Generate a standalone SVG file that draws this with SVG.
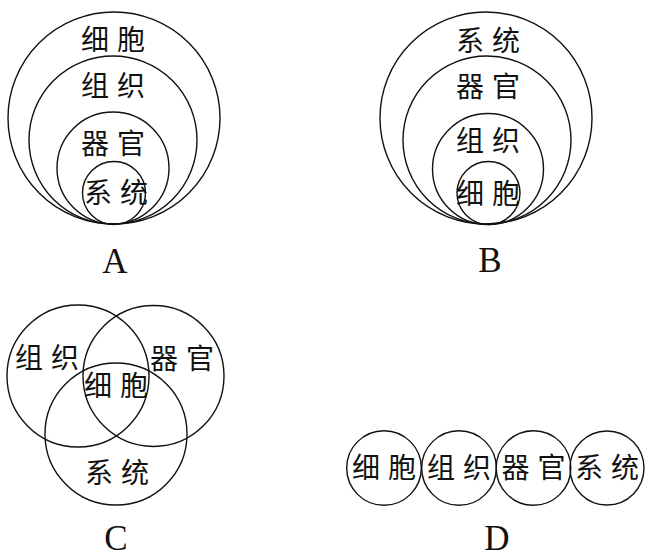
<svg xmlns="http://www.w3.org/2000/svg" width="648" height="558" viewBox="0 0 648 558">
<style>
circle{fill:none;stroke:#111;stroke-width:1.4}
.t{font-family:"Noto Sans CJK SC","Noto Sans",sans-serif;font-size:28px;fill:#111;text-anchor:middle}
.l{font-family:"Liberation Serif","Times New Roman",serif;font-size:35px;fill:#111;text-anchor:middle}
</style>
<rect width="648" height="558" fill="#fff"/>
<g id="diagram-A">
<circle cx="114" cy="118" r="106"/>
<circle cx="113" cy="140" r="84"/>
<circle cx="113" cy="168" r="56"/>
<circle cx="114" cy="193" r="31.5"/>
<text class="t" x="95 131" y="50">细胞</text>
<text class="t" x="95 131" y="96">组织</text>
<text class="t" x="95 131" y="154">器官</text>
<text class="t" x="98 134" y="203">系统</text>
<text class="l" x="115" y="273">A</text>
</g>
<g id="diagram-B">
<circle cx="486" cy="118" r="106"/>
<circle cx="487" cy="140" r="84"/>
<circle cx="488" cy="169" r="55.5"/>
<circle cx="488.5" cy="193" r="31.5"/>
<text class="t" x="470 506" y="51">系统</text>
<text class="t" x="470 506" y="97">器官</text>
<text class="t" x="470 506" y="151">组织</text>
<text class="t" x="470 506" y="204">细胞</text>
<text class="l" x="490" y="272">B</text>
</g>
<g id="diagram-C">
<circle cx="78" cy="376" r="71"/>
<circle cx="153.5" cy="376" r="70.5"/>
<circle cx="116" cy="434" r="71"/>
<text class="t" x="29 65" y="368">组织</text>
<text class="t" x="164 200" y="369">器官</text>
<text class="t" x="98 134" y="396">细胞</text>
<text class="t" x="99 135" y="483">系统</text>
<text class="l" x="116" y="550">C</text>
</g>
<g id="diagram-D">
<circle cx="384" cy="468" r="37.3"/>
<circle cx="459" cy="468" r="37.3"/>
<circle cx="533.5" cy="468" r="37.3"/>
<circle cx="607" cy="468" r="37"/>
<text class="t" x="366 402" y="478">细胞</text>
<text class="t" x="441 477" y="478">组织</text>
<text class="t" x="515.5 551.5" y="478">器官</text>
<text class="t" x="589 625" y="478">系统</text>
<text class="l" x="497" y="550">D</text>
</g>
</svg>
